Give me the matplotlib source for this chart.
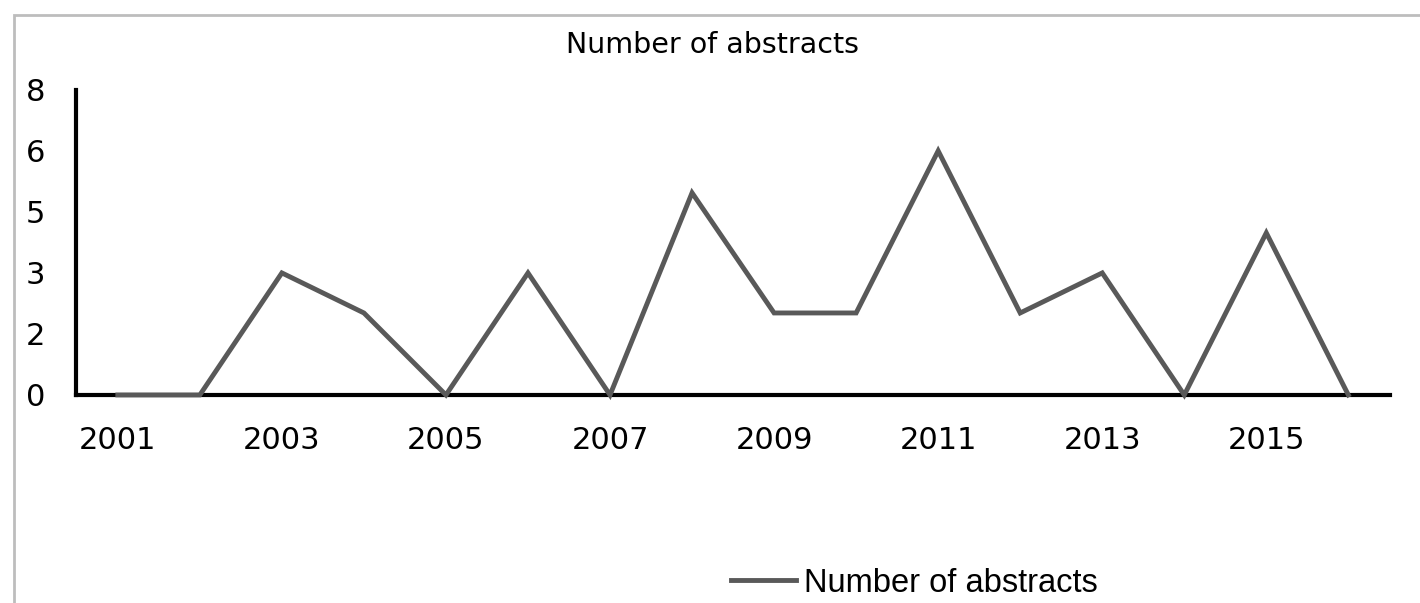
import matplotlib
matplotlib.use("Agg")
import matplotlib.pyplot as plt
from matplotlib.patches import Rectangle

years = list(range(2001, 2017))
abstracts = [0, 0, 3.2, 2.15, 0, 3.2, 0, 5.3, 2.15, 2.15, 6.4, 2.15, 3.2, 0, 4.25, 0]
ytick_vals = [0, 1.6, 3.2, 4.8, 6.4, 8]
ytick_labels = ["0", "2", "3", "5", "6", "8"]
xtick_years = [2001, 2003, 2005, 2007, 2009, 2011, 2013, 2015]

plt.rcParams['font.family'] = ['DejaVu Sans']

fig = plt.figure(figsize=(14.2, 6.03), dpi=100)
ax = fig.add_axes([0.0535, 0.345, 0.9255, 0.506])

line, = ax.plot(years, abstracts, color='#595959', linewidth=3.5, solid_joinstyle='miter',
                label='Number of abstracts', zorder=3, clip_on=False)

ax.set_xlim(2000.49, 2016.51)
ax.set_ylim(0, 8)
ax.set_xticks(xtick_years)
ax.set_xticklabels([str(y) for y in xtick_years])
ax.set_yticks(ytick_vals)
ax.set_yticklabels(ytick_labels)
ax.tick_params(axis='both', length=0, labelsize=22, colors='black')
ax.tick_params(axis='y', pad=22)
ax.tick_params(axis='x', pad=22)

for s in ['top', 'right']:
    ax.spines[s].set_visible(False)
for s in ['left', 'bottom']:
    ax.spines[s].set_linewidth(3)
    ax.spines[s].set_color('black')

fig.text(0.5015, 0.925, 'Number of abstracts', ha='center', va='center', fontsize=20.5)

leg = fig.legend(handles=[line], loc='center', bbox_to_anchor=(0.644, 0.033),
                 frameon=False, handlelength=2.0, handletextpad=0.25,
                 prop={'family': 'Liberation Sans', 'size': 23.5})

# outer chart frame (runs off the right and bottom edges)
fig.add_artist(Rectangle((0.0099, -0.2), 1.2, 0.975 + 0.2, transform=fig.transFigure,
                         fill=False, edgecolor='#bdbdbd', linewidth=2))

fig.savefig('out.png', dpi=100)
